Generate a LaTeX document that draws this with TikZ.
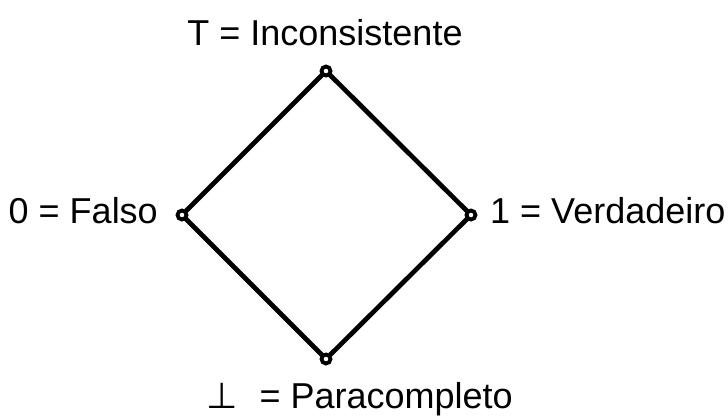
\documentclass[tikz,border=0pt]{standalone}
\usepackage{fontspec}
\setmainfont{Liberation Sans}
\newfontfamily\dejavu{DejaVu Sans}
\begin{document}
\begin{tikzpicture}[x=1pt,y=-1pt,
  lbl/.style={inner sep=0pt, font=\fontsize{36}{40}\selectfont},
  vert/.style={circle, draw=black, fill=white, line width=3.8pt, inner sep=0pt, minimum size=9pt},
  edge/.style={line width=4.7pt, line cap=round}]
\useasboundingbox (0,0) rectangle (728,416);
\coordinate (t) at (326,71);
\coordinate (l) at (182,215);
\coordinate (r) at (471,215);
\coordinate (b) at (326,359);
\draw[edge] (t) -- (r) -- (b) -- (l) -- cycle;
\node[vert] (vt) at (t) {};
\node[vert] (vl) at (l) {};
\node[vert] (vr) at (r) {};
\node[vert] (vb) at (b) {};
\node[lbl, anchor=base] (lt) at (325,45) {T = Inconsistente};
\node[lbl, anchor=base east] (ll) at (158,223) {0 = Falso};
\node[lbl, anchor=base west] (lr) at (490,223) {1 = Verdadeiro};
\node[lbl, anchor=base west] (lb) at (206,408) {{\dejavu ⊥}\hspace{22pt}= Paracompleto};
\end{tikzpicture}
\end{document}
